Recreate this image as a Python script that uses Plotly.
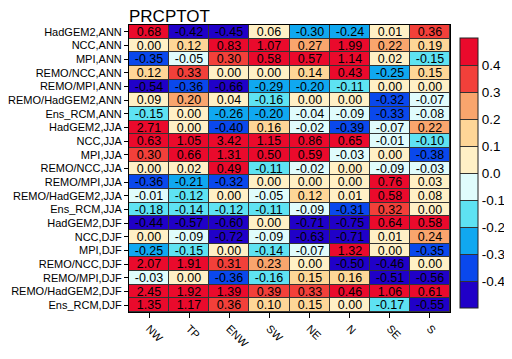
import plotly.graph_objects as go

rows = ["HadGEM2,ANN", "NCC,ANN", "MPI,ANN", "REMO/NCC,ANN", "REMO/MPI,ANN",
        "REMO/HadGEM2,ANN", "Ens_RCM,ANN",
        "HadGEM2,JJA", "NCC,JJA", "MPI,JJA", "REMO/NCC,JJA", "REMO/MPI,JJA",
        "REMO/HadGEM2,JJA", "Ens_RCM,JJA",
        "HadGEM2,DJF", "NCC,DJF", "MPI,DJF", "REMO/NCC,DJF", "REMO/MPI,DJF",
        "REMO/HadGEM2,DJF", "Ens_RCM,DJF"]
regions = ["NW", "TP", "ENW", "SW", "NE", "N", "SE", "S"]

values = [
    [0.68, -0.42, -0.45, 0.06, -0.30, -0.24, 0.01, 0.36],
    [0.00, 0.12, 0.83, 1.07, 0.27, 1.99, 0.22, 0.19],
    [-0.35, -0.05, 0.30, 0.58, 0.57, 1.14, 0.02, -0.15],
    [0.12, 0.33, 0.00, 0.00, 0.14, 0.43, -0.25, 0.15],
    [-0.54, -0.36, -0.66, -0.29, -0.204, -0.11, 0.00, 0.00],
    [0.09, 0.20, 0.04, -0.16, 0.00, 0.00, -0.32, -0.07],
    [-0.15, 0.00, -0.26, -0.204, -0.04, -0.09, -0.33, -0.08],
    [2.71, 0.00, -0.40, 0.16, -0.02, -0.39, -0.07, 0.22],
    [0.63, 1.05, 3.42, 1.15, 0.86, 0.65, -0.01, -0.104],
    [0.30, 0.66, 1.31, 0.50, 0.59, -0.03, 0.00, -0.38],
    [0.00, 0.02, 0.49, -0.11, -0.02, 0.00, -0.09, -0.03],
    [-0.36, -0.21, -0.32, 0.00, 0.00, 0.00, 0.76, 0.03],
    [-0.01, -0.12, 0.00, -0.05, 0.12, 0.01, 0.58, 0.08],
    [-0.18, -0.14, -0.12, -0.11, -0.09, -0.31, 0.32, 0.00],
    [-0.44, -0.57, -0.60, 0.00, -0.71, -0.75, 0.64, 0.58],
    [0.00, -0.09, -0.72, -0.09, -0.63, -0.71, 0.01, 0.24],
    [-0.25, -0.15, 0.00, -0.14, -0.07, 1.32, 0.00, -0.35],
    [2.07, 1.91, 0.31, 0.23, 0.00, -0.50, -0.46, 0.00],
    [-0.03, 0.00, -0.36, -0.16, 0.15, 0.16, -0.51, -0.56],
    [2.45, 1.92, 1.39, 0.39, 0.33, 0.46, 1.06, 0.61],
    [1.35, 1.17, 0.36, 0.10, 0.15, 0.00, -0.17, -0.55],
]

bin_colors = ["#2000c8", "#0a48ec", "#10a8f0", "#5ee2f2", "#e0fcfc",
              "#fff0c6", "#fed697", "#f9a56d", "#f2403a", "#ea0a2c"]
cbar_ticks = [-0.4, -0.3, -0.2, -0.1, 0.0, 0.1, 0.2, 0.3, 0.4]

eps = 1e-6
n = len(bin_colors)
colorscale = []
for i, c in enumerate(bin_colors):
    lo = 0.0 if i == 0 else i / n - eps
    hi = 1.0 if i == n - 1 else (i + 1) / n - eps
    colorscale.append([lo, c])
    colorscale.append([hi, c])

FONT = "Liberation Sans, Arial, Helvetica, sans-serif"

fig = go.Figure(go.Heatmap(
    z=values, x=regions, y=rows,
    zmin=-0.5, zmax=0.5,
    colorscale=colorscale,
    xgap=1, ygap=1,
    texttemplate="%{z:.2f}",
    textfont=dict(size=12.5, color="black", family=FONT),
    colorbar=dict(
        x=1.031, xanchor="left", xpad=0,
        y=0.484, yanchor="middle", ypad=0,
        thickness=18, lenmode="pixels", len=270,
        outlinewidth=1, outlinecolor="#222",
        tickvals=cbar_ticks, ticktext=[f"{t:.1f}" for t in cbar_ticks],
        ticks="inside", ticklen=18, tickcolor="#333", tickwidth=1,
        tickfont=dict(size=13.5, color="black", family=FONT),
    ),
))

fig.update_layout(
    width=512, height=359,
    margin=dict(l=121, r=70, t=17, b=55, pad=0, autoexpand=False),
    paper_bgcolor="white", plot_bgcolor="#333333",
    font=dict(family=FONT, color="black"),
    title=dict(text="PRCPTOT", xref="paper", x=0, xanchor="left",
               yref="container", y=0.995, yanchor="top", pad=dict(t=0, b=0, l=0, r=0),
               font=dict(size=17, color="black", family=FONT)),
)
fig.update_xaxes(tickangle=45, ticks="outside", ticklen=5, tickcolor="black",
                 showline=True, linecolor="black", mirror=True, automargin=False,
                 tickfont=dict(size=11, family=FONT), showgrid=False)
fig.update_yaxes(autorange="reversed", ticks="outside", ticklen=4, tickcolor="black",
                 showline=True, linecolor="black", mirror=True, automargin=False,
                 tickfont=dict(size=11, family=FONT), showgrid=False)

fig.write_html("out.html")
